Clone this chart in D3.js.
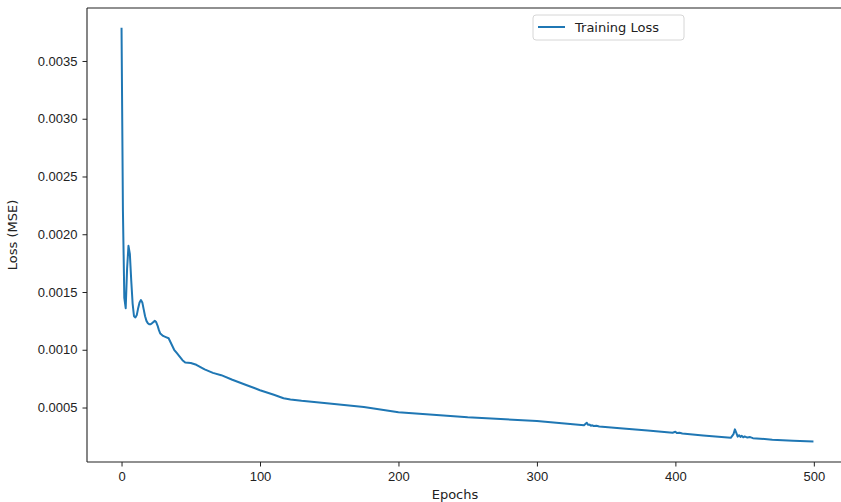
<!DOCTYPE html>
<html>
<head>
<meta charset="utf-8">
<script src="https://cdn.jsdelivr.net/npm/d3@7"></script>
<style>
  body { margin: 0; background: #fff; overflow: hidden; }
  svg { display: block; font-family: "DejaVu Sans", sans-serif; }
  .tick text { font-size: 13px; fill: #222; }
  .tick line { stroke: #222; }
  .axis-label { font-size: 13px; fill: #222; }
</style>
</head>
<body>
<svg id="chart" width="841" height="502"></svg>
<script>
// Values (epoch, training loss)
var EPOCHS = [0, 1, 2, 3, 4, 5, 6, 7, 8, 9, 10, 11, 12, 13, 14, 15, 16, 17, 18, 19,
    20, 21, 22, 23, 24, 25, 26, 27, 28, 30, 32, 34, 36, 38, 40, 42, 44, 46, 50, 54,
    57, 60, 66, 72, 80, 90, 100, 105, 110, 117, 122, 130, 150, 175, 200, 215, 250, 300,
    334, 336, 337, 338, 339, 340, 341, 343, 345, 360, 380, 398, 400, 401, 403, 405,
    420, 440, 442, 443, 444, 445, 446, 447, 448, 449, 450, 452, 454, 456, 470, 485, 499];

var LOSS = [0.00378, 0.0022, 0.00145, 0.00136, 0.0017, 0.0019, 0.00183, 0.0016, 0.0014, 0.00129,
    0.00128, 0.0013, 0.00136, 0.00141, 0.00143, 0.00141, 0.00135, 0.00129, 0.00125, 0.00123,
    0.00122, 0.00122, 0.00123, 0.00124, 0.00125, 0.00124, 0.00121, 0.00117, 0.00114, 0.00112,
    0.00111, 0.0011, 0.00105, 0.001, 0.00097, 0.00094, 0.00091, 0.00089, 0.000885, 0.00087,
    0.00085, 0.00083, 0.0008, 0.00078, 0.00074, 0.000695, 0.00065, 0.00063, 0.00061, 0.00058,
    0.00057, 0.000558, 0.000534, 0.000505, 0.00046, 0.000447, 0.000415, 0.000383,
    0.000346, 0.000368, 0.00035, 0.000352, 0.000342, 0.000346, 0.00034, 0.000342, 0.000336,
    0.00032, 0.000302, 0.000282, 0.00029, 0.00028, 0.000282, 0.000275,
    0.000258, 0.000238, 0.00027, 0.000311, 0.00028, 0.000248, 0.00026, 0.000245, 0.000255,
    0.000242, 0.00025, 0.00024, 0.000244, 0.000235, 0.000222, 0.000213, 0.000207];

var X_TICKS = [0, 100, 200, 300, 400, 500];
var Y_TICKS = [0.0005, 0.0010, 0.0015, 0.0020, 0.0025, 0.0030, 0.0035];

var SERIES_NAME = "Training Loss";
var LINE_COLOR = "#1f77b4";

// right edge of the axes sits just outside the picture
var LEFT = 87, TOP = 8, RIGHT = 847, BOTTOM = 462;

var svg = d3.select("#chart");

var points = EPOCHS.map((e, i) => ({ x: e, y: LOSS[i] }));

// matplotlib style 5% margins
var xExt = [0, 499];
var xPad = (xExt[1] - xExt[0]) * 0.05;
var xScale = d3.scaleLinear()
    .domain([xExt[0] - xPad, xExt[1] + xPad])
    .range([LEFT, RIGHT]);

var yExt = d3.extent(LOSS);
var yPad = (yExt[1] - yExt[0]) * 0.05;
var yScale = d3.scaleLinear()
    .domain([yExt[0] - yPad, yExt[1] + yPad])
    .range([BOTTOM, TOP]);

// Axes
var xAxis = d3.axisBottom(xScale)
    .tickValues(X_TICKS)
    .tickSizeOuter(0)
    .tickSize(4.5)
    .tickPadding(5)
    .tickFormat(d3.format("d"));

var yAxis = d3.axisLeft(yScale)
    .tickValues(Y_TICKS)
    .tickSizeOuter(0)
    .tickSize(4.5)
    .tickPadding(5)
    .tickFormat(d3.format(".4f"));

var gx = svg.append("g")
    .attr("transform", "translate(0," + BOTTOM + ")")
    .call(xAxis);
gx.select(".domain").remove();

var gy = svg.append("g")
    .attr("transform", "translate(" + LEFT + ",0)")
    .call(yAxis);
gy.select(".domain").remove();

svg.selectAll(".tick line").attr("stroke-width", 1);

// Frame (top, left, bottom spines; right one is off-picture)
var spines = [
    [[LEFT, TOP], [RIGHT, TOP]],
    [[LEFT, TOP], [LEFT, BOTTOM]],
    [[LEFT, BOTTOM], [RIGHT, BOTTOM]]
];
svg.selectAll(".spine")
    .data(spines)
    .enter()
    .append("path")
    .attr("class", "spine")
    .attr("d", d => d3.line()(d))
    .attr("fill", "none")
    .attr("stroke", "#222")
    .attr("stroke-width", 1.1);

// Axis labels
svg.append("text")
    .attr("class", "axis-label")
    .attr("text-anchor", "middle")
    .attr("x", 455)
    .attr("y", 499)
    .text("Epochs");

svg.append("text")
    .attr("class", "axis-label")
    .attr("text-anchor", "middle")
    .attr("transform", "translate(17,235) rotate(-90)")
    .text("Loss (MSE)");

// Loss line
var lineGenerator = d3.line()
    .x(d => xScale(d.x))
    .y(d => yScale(d.y));

svg.append("path")
    .datum(points)
    .attr("fill", "none")
    .attr("stroke", LINE_COLOR)
    .attr("stroke-width", 2)
    .attr("stroke-linejoin", "round")
    .attr("stroke-linecap", "square")
    .attr("d", lineGenerator);

// Legend
var legend = svg.append("g").attr("transform", "translate(533,15)");
legend.append("rect")
    .attr("width", 151)
    .attr("height", 25)
    .attr("rx", 3)
    .attr("fill", "#fff")
    .attr("fill-opacity", 0.8)
    .attr("stroke", "#d6d6d6");
legend.append("line")
    .attr("x1", 5)
    .attr("x2", 32)
    .attr("y1", 12)
    .attr("y2", 12)
    .attr("stroke", LINE_COLOR)
    .attr("stroke-width", 2);
legend.append("text")
    .attr("class", "axis-label")
    .attr("x", 42)
    .attr("y", 17)
    .text(SERIES_NAME);
</script>
</body>
</html>
